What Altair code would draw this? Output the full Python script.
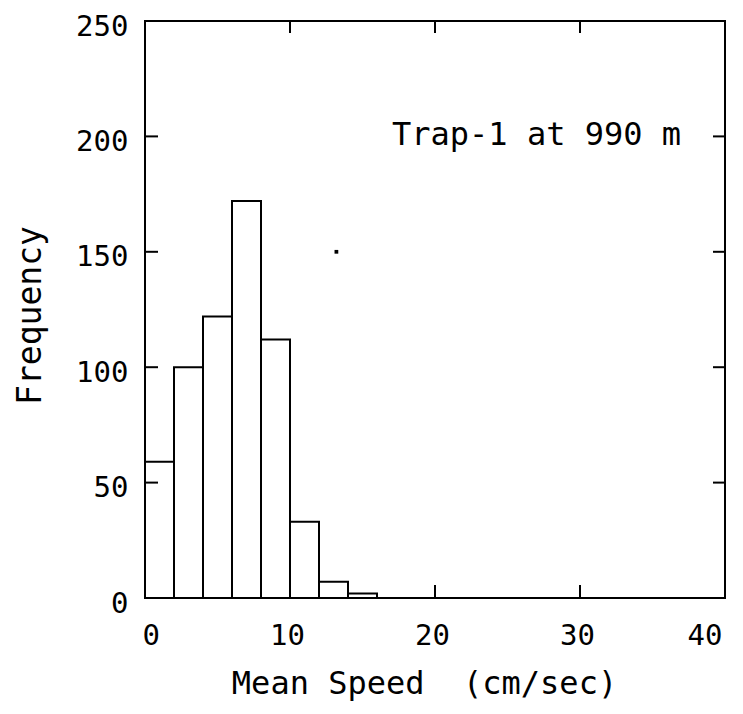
import altair as alt
import pandas as pd

# Histogram data (Mean speed bins, cm/sec)
bin_start = [0, 2, 4, 6, 8, 10, 12, 14]
bin_end = [2, 4, 6, 8, 10, 12, 14, 16]
frequency = [59, 100, 122, 172, 112, 33, 7, 2]

# stray dot in the figure
dot_x = [13.2]
dot_y = [150]

x_ticks = [10, 20, 30]
y_ticks = [50, 100, 150, 200]
x_labels = [0, 10, 20, 30, 40]
y_labels = [0, 50, 100, 150, 200, 250]

annotation = "Trap-1 at 990 m"

W, H = 580, 577
FONT = "DejaVu Sans Mono"

xs = alt.Scale(domain=[0, 40], nice=False, zero=False)
ys = alt.Scale(domain=[0, 250], nice=False, zero=False)

x_axis = alt.Axis(values=x_labels, ticks=False, domain=False, grid=False,
                  labelFont=FONT, labelFontSize=29, labelColor="black",
                  labelPadding=23, labelOffset=-3,
                  title="Mean Speed\u00a0 (cm/sec)", titleFont=FONT,
                  titleFontSize=32, titleFontWeight="normal",
                  titleColor="black", titlePadding=18, titleX=279)
y_axis = alt.Axis(values=y_labels, ticks=False, domain=False, grid=False,
                  labelFont=FONT, labelFontSize=29, labelColor="black",
                  labelPadding=17, labelOffset=5,
                  title="Frequency", titleFont=FONT,
                  titleFontSize=33, titleFontWeight="normal",
                  titleColor="black", titlePadding=28, titleY=294)

bars_df = pd.DataFrame({"start": bin_start, "end": bin_end, "freq": frequency})

bars = alt.Chart(bars_df).mark_bar(
    fill="white", stroke="black", strokeWidth=2
).encode(
    x=alt.X("start:Q", scale=xs, axis=x_axis),
    x2="end:Q",
    y=alt.Y("freq:Q", scale=ys, axis=y_axis),
    y2=alt.datum(0),
)

yt = pd.DataFrame({"v": y_ticks})
xt = pd.DataFrame({"v": x_ticks})

left_ticks = alt.Chart(yt).mark_rule(color="black", strokeWidth=2).encode(
    y=alt.Y("v:Q", scale=ys, axis=y_axis), x=alt.value(0), x2=alt.value(13))
right_ticks = alt.Chart(yt).mark_rule(color="black", strokeWidth=2).encode(
    y=alt.Y("v:Q", scale=ys, axis=y_axis), x=alt.value(W - 12), x2=alt.value(W))
bottom_ticks = alt.Chart(xt).mark_rule(color="black", strokeWidth=2).encode(
    x=alt.X("v:Q", scale=xs, axis=x_axis), y=alt.value(H - 13), y2=alt.value(H))
top_ticks = alt.Chart(xt).mark_rule(color="black", strokeWidth=2).encode(
    x=alt.X("v:Q", scale=xs, axis=x_axis), y=alt.value(0), y2=alt.value(12))

dot = alt.Chart(pd.DataFrame({"x": dot_x, "y": dot_y})).mark_square(
    color="black", size=14, opacity=1).encode(
    x=alt.X("x:Q", scale=xs, axis=x_axis), y=alt.Y("y:Q", scale=ys, axis=y_axis))

label = alt.Chart(pd.DataFrame({"x": [27.0], "y": [200.5], "t": [annotation]})).mark_text(
    font=FONT, fontSize=32, color="black", align="center", baseline="middle").encode(
    x=alt.X("x:Q", scale=xs, axis=x_axis), y=alt.Y("y:Q", scale=ys, axis=y_axis), text="t:N")

chart = alt.layer(bars, left_ticks, right_ticks, bottom_ticks, top_ticks, dot, label).properties(
    width=W, height=H,
    background="white",
    autosize=alt.AutoSizeParams(type="none"),
    padding={"left": 137, "top": 13, "right": 10, "bottom": 108},
).configure_view(stroke="black", strokeWidth=2)

chart.save("out.html", embed_options={"renderer": "svg", "actions": False})
